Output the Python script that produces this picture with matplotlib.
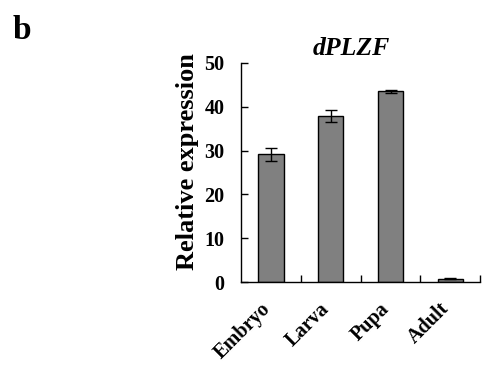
import matplotlib.pyplot as plt
import matplotlib.transforms as mtransforms
import numpy as np

# dados
estagios = ["Embryo", "Larva", "Pupa", "Adult"]
expressao = [29.2, 37.9, 43.5, 0.8]
erro = [1.5, 1.3, 0.3, 0.1]

plt.rcParams['font.family'] = ['Liberation Serif', 'DejaVu Serif']
plt.rcParams['font.weight'] = 'bold'

fig = plt.figure(figsize=(4.88, 3.86), dpi=100)
ax = fig.add_axes([0.494, 0.269, 0.49, 0.568])

x = np.arange(len(estagios))
ax.bar(x, expressao, width=0.42, color='#808080', edgecolor='black', linewidth=1.0,
       yerr=erro, capsize=4, error_kw=dict(ecolor='black', elinewidth=1.0, capthick=1.0))

ax.set_xlim(-0.5, 3.5)
ax.set_ylim(0, 50)
ax.set_yticks([0, 10, 20, 30, 40, 50])
ax.tick_params(axis='y', direction='in', length=5, width=1, labelsize=14.5, pad=12)
ax.set_xticks(x)
ax.set_xticklabels(estagios, rotation=45, ha='right', rotation_mode='anchor', fontsize=14.5)
ax.tick_params(axis='x', length=0, pad=12)
ax.set_xticks([0.5, 1.5, 2.5, 3.5], minor=True)
ax.tick_params(axis='x', which='minor', direction='in', length=5, width=1)

# desloca os rotulos do eixo x um pouco para a esquerda
desloc = mtransforms.ScaledTranslation(-11/100, 0, fig.dpi_scale_trans)
for rot in ax.get_xticklabels():
    rot.set_transform(rot.get_transform() + desloc)

for s in ['top', 'right']:
    ax.spines[s].set_visible(False)
for s in ['left', 'bottom']:
    ax.spines[s].set_linewidth(1.0)

ax.set_ylabel("Relative expression", fontsize=19, fontweight='bold')
ax.yaxis.set_label_coords(-0.175, 0.55)
ax.set_title("dPLZF", fontsize=18.5, fontweight='bold', fontstyle='italic', x=0.462, pad=6)

fig.text(0.025, 0.9, "b", fontsize=24, fontweight='bold')

fig.savefig("out.png", dpi=100)
